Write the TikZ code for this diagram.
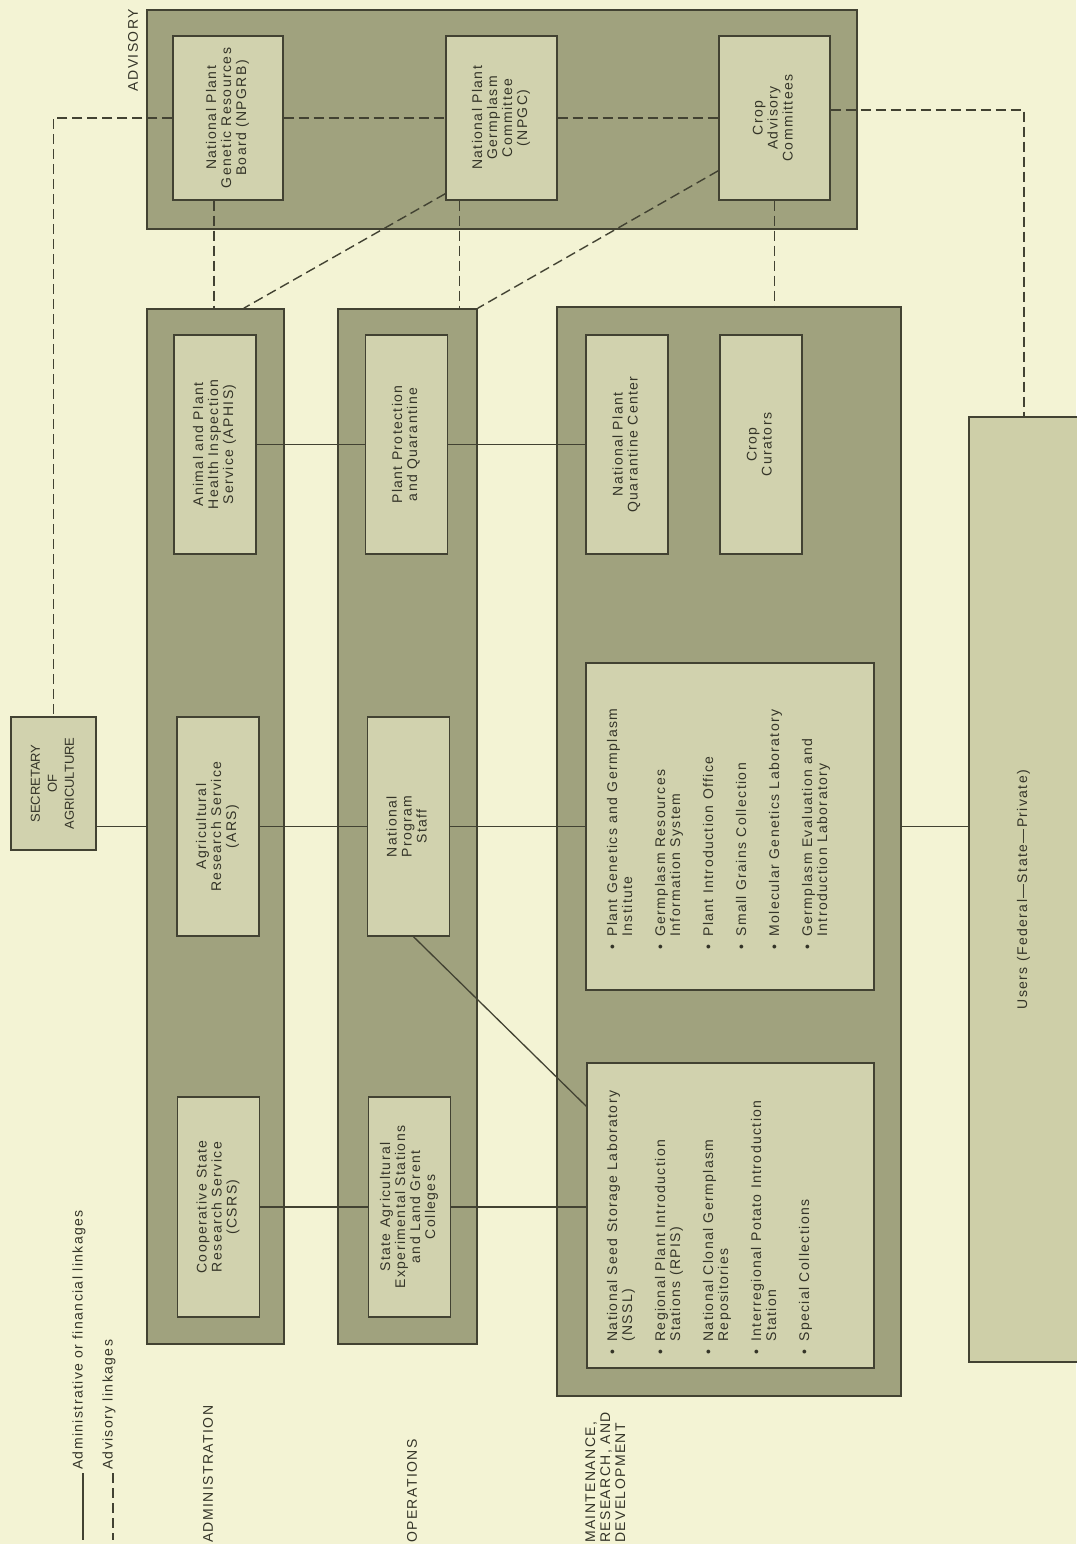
\documentclass[tikz,border=0pt]{standalone}
\usepackage{fontspec}
\setmainfont{Liberation Sans}[LetterSpace=10]
\usepackage{graphicx}

\definecolor{bgc}{RGB}{243,243,212}
\definecolor{outerc}{RGB}{160,162,126}
\definecolor{innerc}{RGB}{209,210,174}
\definecolor{usersc}{RGB}{206,207,168}
\definecolor{linec}{RGB}{66,66,50}
\definecolor{textc}{RGB}{52,52,40}

\newcommand{\vtxt}[1]{\rotatebox{90}{\begin{tabular}{@{}c@{}}#1\end{tabular}}}
\newcommand{\vlist}[1]{\rotatebox{90}{\begin{tabular}{@{}l@{\hspace{8pt}}l@{}}#1\end{tabular}}}

\tikzset{
  panelbox/.style={draw=linec, line width=1.6pt, fill=outerc, inner sep=0pt},
  unitbox/.style={draw=linec, line width=1.4pt, fill=innerc, inner sep=0pt},
  vlabel/.style={inner sep=0pt},
  admlink/.style={draw=linec, line width=1.3pt},
  advlink/.style={draw=linec, line width=1.4pt, dash pattern=on 10pt off 5pt},
}

\begin{document}
\begin{tikzpicture}[x=1pt, y=-1pt, font=\fontsize{14}{15}\selectfont, text=textc]
\fill[bgc] (0,0) rectangle (1076,1544);
\useasboundingbox (0,0) rectangle (1076,1544);

\node[panelbox, minimum width=710pt, minimum height=219pt] (advisory) at (502,119.5) {};
\node[panelbox, minimum width=137pt, minimum height=1035pt] (admin) at (215.5,826.5) {};
\node[panelbox, minimum width=139pt, minimum height=1035pt] (ops) at (407.5,826.5) {};
\node[panelbox, minimum width=344pt, minimum height=1089pt] (mrd) at (729,851.5) {};

\node[unitbox, minimum width=85pt, minimum height=133pt, font=\fontsize{13}{17}\selectfont\addfontfeature{LetterSpace=0}] (sec) at (53.5,783.5) {\vtxt{SECRETARY\\OF\\AGRICULTURE}};

\node[unitbox, minimum width=110pt, minimum height=164pt] (npgrb) at (228,118) {\vtxt{National Plant\\Genetic Resources\\Board (NPGRB)}};
\node[unitbox, minimum width=111pt, minimum height=164pt] (npgc) at (501.5,118) {\vtxt{National Plant\\Germplasm\\Committee\\(NPGC)}};
\node[unitbox, minimum width=111pt, minimum height=164pt] (crop) at (774.5,118) {\vtxt{Crop\\Advisory\\Committees}};

\node[unitbox, minimum width=82pt, minimum height=219pt] (aphis) at (215,444.5) {\vtxt{Animal and Plant\\Health Inspection\\Service (APHIS)}};
\node[unitbox, minimum width=82pt, minimum height=219pt] (ars) at (218,826.5) {\vtxt{Agricultural\\Research Service\\(ARS)}};
\node[unitbox, minimum width=82pt, minimum height=220pt] (csrs) at (218.5,1207) {\vtxt{Cooperative State\\Research Service\\(CSRS)}};

\node[unitbox, minimum width=82pt, minimum height=219pt] (ppq) at (406.5,444.5) {\vtxt{Plant Protection\\and Quarantine}};
\node[unitbox, minimum width=82pt, minimum height=219pt] (nps) at (408.5,826.5) {\vtxt{National\\Program\\Staff}};
\node[unitbox, minimum width=82pt, minimum height=220pt] (sae) at (409.5,1207) {\vtxt{State Agricultural\\Experimental Stations\\and Land Grent\\Colleges}};

\node[unitbox, minimum width=82pt, minimum height=219pt] (npqc) at (627,444.5) {\vtxt{National Plant\\Quarantine Center}};
\node[unitbox, minimum width=82pt, minimum height=219pt] (curators) at (761,444.5) {\vtxt{Crop\\Curators}};
\node[unitbox, minimum width=288pt, minimum height=327pt] (pggi) at (730,826.5) {};
\node[unitbox, minimum width=287pt, minimum height=305pt] (nssl) at (730.5,1215.5) {};
\node[unitbox, fill=usersc, minimum width=110pt, minimum height=945pt] (users) at (1024,889.5) {\vtxt{Users (Federal—State—Private)}};

\node[vlabel, anchor=south west] (pggilist) at ([xshift=21pt, yshift=41pt]pggi.south west) {\vlist{
\textbullet & Plant Genetics and Germplasm\\ & Institute\\[18pt]
\textbullet & Germplasm Resources\\ & Information System\\[18pt]
\textbullet & Plant Introduction Office\\[18pt]
\textbullet & Small Grains Collection\\[18pt]
\textbullet & Molecular Genetics Laboratory\\[18pt]
\textbullet & Germplasm Evaluation and\\ & Introduction Laboratory}};
\node[vlabel, anchor=south west] (nssllist) at ([xshift=20pt, yshift=14pt]nssl.south west) {\vlist{
\textbullet & National Seed Storage Laboratory\\ & (NSSL)\\[18pt]
\textbullet & Regional Plant Introduction\\ & Stations (RPIS)\\[18pt]
\textbullet & National Clonal Germplasm\\ & Repositories\\[18pt]
\textbullet & Interregional Potato Introduction\\ & Station\\[18pt]
\textbullet & Special Collections}};

\node[vlabel, anchor=north] (advlbl) at (133,9) {\rotatebox{90}{ADVISORY}};
\node[vlabel, anchor=south] (admlbl) at (208,1543) {\rotatebox{90}{ADMINISTRATION}};
\node[vlabel, anchor=south] (opslbl) at (412,1543) {\rotatebox{90}{OPERATIONS}};
\node[vlabel, anchor=south] (mrdlbl) at (607,1543) {\rotatebox{90}{\begin{tabular}{@{}l@{}}MAINTENANCE,\\RESEARCH, AND\\DEVELOPMENT\end{tabular}}};

\node[vlabel, anchor=south] (legadm) at (79,1470) {\rotatebox{90}{Administrative or financial linkages}};
\node[vlabel, anchor=south] (legadv) at (109,1470) {\rotatebox{90}{Advisory linkages}};
\coordinate (la1) at (83,1473);
\coordinate (la2) at (83,1540);
\coordinate (lb1) at (113,1473);
\coordinate (lb2) at (113,1540);

\coordinate (n1) at ([xshift=-14pt]npgrb.south);
\coordinate (n2) at ([xshift=-42pt]npgc.south);
\coordinate (cr) at ([yshift=8pt]crop.east);
\coordinate (ne) at ([yshift=-44pt]nssl.north west);

\path[admlink]
(sec.east |- ars.west) edge (ars.west -| admin.west)
(aphis) edge (ppq)
(ppq) edge (npqc)
(ars) edge (nps)
(nps) edge (pggi)
(csrs) edge (sae)
(sae.east) edge (sae.east -| nssl.west)
(pggi.east -| mrd.east) edge (pggi.east -| users.west)
([xshift=5pt]nps.south) edge (ne)
(la1) edge (la2);

\path[advlink]
(npgrb) edge (npgc)
(npgc) edge (crop)
(n1) edge (n1 |- admin.north)
(n2) edge (n2 |- ops.north)
(crop.south) edge (crop.south |- mrd.north)
([yshift=7pt]npgc.south west) edge ([xshift=-41pt]admin.north east)
([yshift=30pt]crop.south west) edge (ops.north east)
(lb1) edge (lb2);
\draw[advlink] (npgrb.west) -- (npgrb.west -| sec.north) -- (sec.north);
\draw[advlink] (cr) -- (cr -| users.north) -- (users.north);
\end{tikzpicture}
\end{document}
